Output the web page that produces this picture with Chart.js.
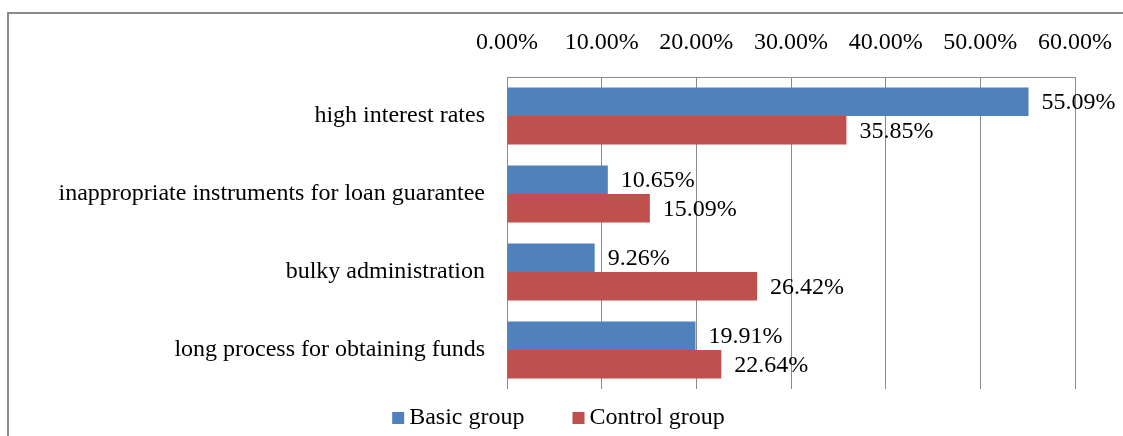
<!DOCTYPE html>
<html>
<head>
<meta charset="utf-8">
<script src="https://cdn.jsdelivr.net/npm/chart.js@4/dist/chart.umd.min.js"></script>
<style>
  html, body { margin: 0; padding: 0; background: #fff; overflow: hidden; }
  #frame { position: absolute; left: 7px; top: 12px; width: 1200px; height: 500px; border: 2px solid #8a8a8a; }
  #chart { position: absolute; left: 0; top: 0; }
</style>
</head>
<body>
<div id="frame"></div>
<canvas id="chart" width="1123" height="436"></canvas>
<script>
var categories = [
  'high interest rates',
  'inappropriate instruments for loan guarantee',
  'bulky administration',
  'long process for obtaining funds'
];
var basicGroup = [55.09, 10.65, 9.26, 19.91];
var controlGroup = [35.85, 15.09, 26.42, 22.64];
var tickValues = [0, 10, 20, 30, 40, 50, 60];

var serif = 'Liberation Serif, Times New Roman, serif';
var fontSize = 24;

// labels drawn just past the end of every bar
var valueLabels = {
  id: 'valueLabels',
  afterDatasetsDraw: function(chart) {
    var ctx = chart.ctx;
    ctx.save();
    ctx.font = fontSize + 'px ' + serif;
    ctx.fillStyle = '#000';
    ctx.textAlign = 'left';
    ctx.textBaseline = 'middle';
    chart.data.datasets.forEach(function(ds, i) {
      chart.getDatasetMeta(i).data.forEach(function(bar, j) {
        ctx.fillText(ds.data[j].toFixed(2) + '%', bar.x + 13, bar.y + 1);
      });
    });
    ctx.restore();
  }
};

// simple legend under the plot, Excel style (small square close to the text)
var bottomLegend = {
  id: 'bottomLegend',
  afterDraw: function(chart) {
    var ctx = chart.ctx;
    var dsets = chart.data.datasets;
    ctx.save();
    ctx.font = fontSize + 'px ' + serif;
    ctx.textBaseline = 'middle';
    ctx.textAlign = 'left';
    var box = 12, gapText = 5, gapItem = 48;
    var widths = dsets.map(function(ds) { return box + gapText + ctx.measureText(ds.label).width; });
    var total = widths.reduce(function(a, b) { return a + b; }, 0) + gapItem * (dsets.length - 1);
    var x = chart.width / 2 - 3 - total / 2;
    var y = chart.chartArea.bottom + 29;
    dsets.forEach(function(ds, i) {
      ctx.fillStyle = ds.backgroundColor;
      ctx.fillRect(x, y - 6, box, box);
      ctx.fillStyle = '#000';
      ctx.fillText(ds.label, x + box + gapText, y);
      x += widths[i] + gapItem;
    });
    ctx.restore();
  }
};

new Chart(document.getElementById('chart').getContext('2d'), {
  type: 'bar',
  data: {
    labels: categories,
    datasets: [
      { label: 'Basic group', data: basicGroup, backgroundColor: '#4F81BD', borderWidth: 0 },
      { label: 'Control group', data: controlGroup, backgroundColor: '#C0504D', borderWidth: 0 }
    ]
  },
  options: {
    indexAxis: 'y',
    responsive: false,
    animation: false,
    categoryPercentage: 0.73,
    barPercentage: 1,
    layout: { padding: { left: 0, right: 48, top: 0, bottom: 47 } },
    scales: {
      x: {
        position: 'top',
        min: 0,
        max: 60,
        afterBuildTicks: function(scale) {
          scale.ticks = tickValues.map(function(v) { return { value: v }; });
        },
        afterFit: function(scale) {
          scale.height = 77;
          scale.paddingLeft = 0;
          scale.paddingRight = 0;
        },
        ticks: {
          padding: 20,
          color: '#000',
          font: { family: serif, size: fontSize },
          callback: function(v) { return v.toFixed(2) + '%'; }
        },
        grid: { color: '#8a8a8a', drawTicks: false },
        border: { display: true, color: '#8a8a8a' }
      },
      y: {
        afterFit: function(scale) { scale.width = 507; },
        ticks: {
          padding: 22,
          color: '#000',
          font: { family: serif, size: fontSize }
        },
        grid: { display: false, drawTicks: false },
        border: { display: false }
      }
    },
    plugins: {
      legend: { display: false },
      tooltip: { enabled: false }
    }
  },
  plugins: [valueLabels, bottomLegend]
});
</script>
</body>
</html>
